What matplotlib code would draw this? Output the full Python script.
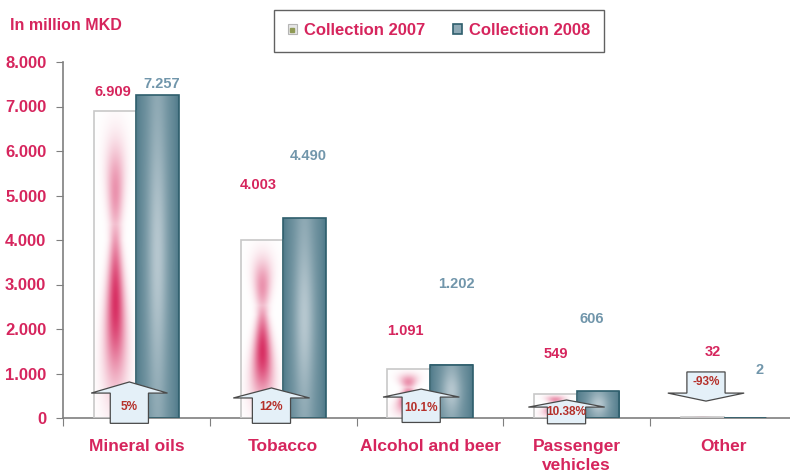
import numpy as np
import matplotlib.pyplot as plt
from matplotlib.patches import Patch, Polygon
from matplotlib.lines import Line2D
from matplotlib.legend_handler import HandlerTuple

plt.rcParams['font.family'] = ['Liberation Sans', 'DejaVu Sans']
plt.rcParams['font.weight'] = 'bold'

# Excise collection by product group, million MKD
categories = ['Mineral oils', 'Tobacco', 'Alcohol and beer', 'Passenger\nvehicles', 'Other']
collection_2007 = [6909, 4003, 1091, 549, 32]
collection_2008 = [7257, 4490, 1202, 606, 2]
change_labels = ['5%', '12%', '10.1%', '10.38%', '-93%']

# where the value labels sit (heights in MKD)
label_y_2007 = [7330, 5240, 1960, 1440, 1490]
label_y_2008 = [7500, 5890, 3010, 2230, 1080]
label_dx_2007 = [-0.16, -0.17, -0.165, -0.145, -0.075]
label_dx_2008 = [0.175, 0.17, 0.177, 0.10, 0.245]

# block arrows: x offset, tail, shoulder, tip, text height
arrow_geom = [
    (-0.048, -120, 560, 810, 245),
    (-0.08, -120, 450, 675, 245),
    (-0.06, -100, 470, 650, 220),
    (-0.07, -130, 245, 405, 130),
    (-0.12, 1035, 560, 380, 810),
]

PINK = '#d6255d'
BLUE_LBL = '#7196ab'
ARROW_TXT = '#b5302a'
GRAY = '#7f7f7f'


def fmt(v):
    return f'{v:,}'.replace(',', '.')


def grad_2007(nx=40, ny=160):
    u = np.linspace(-1, 1, nx)
    v = np.linspace(0, 1, ny)
    U, V = np.meshgrid(u, v)
    amp = np.maximum(0.95 * np.exp(-((V - 0.37) / 0.24) ** 2),
                     0.5 * np.exp(-((V - 0.74) / 0.15) ** 2))
    w = 0.28 + 0.7 * np.abs(V - 0.58)
    inten = amp * np.exp(-(U / w) ** 2)
    white = np.array([1.0, 1.0, 1.0])
    red = np.array([214, 38, 92]) / 255
    return white * (1 - inten[..., None]) + red * inten[..., None]


def grad_2008(nx=40, ny=160):
    u = np.linspace(-1, 1, nx)
    v = np.linspace(0, 1, ny)
    U, V = np.meshgrid(u, v)
    t = np.exp(-(U / 0.5) ** 2) * (0.45 + 0.55 * np.exp(-((V - 0.5) / 0.35) ** 2))
    t = t - 0.25 * np.abs(U) ** 6
    dark = np.array([98, 136, 150]) / 255
    light = np.array([182, 199, 207]) / 255
    t = t[..., None]
    return np.clip(dark * (1 - t) + light * t, 0, 1)


fig = plt.figure(figsize=(7.9, 4.71), dpi=100)
ax = fig.add_axes([63 / 790, 53 / 471, 734 / 790, 356 / 471])

x = np.arange(len(categories))
w = 0.29
b07 = ax.bar(x - w / 2, collection_2007, w, facecolor='none', edgecolor='#c8c8c8', lw=1.2, zorder=3)
b08 = ax.bar(x + w / 2, collection_2008, w, facecolor='none', edgecolor='#2e5e6c', lw=1.2, zorder=3)

# gradient fills inside each bar
img07 = grad_2007()
img08 = grad_2008()
for bars, img in ((b07, img07), (b08, img08)):
    for p in bars:
        x0, h = p.get_x(), p.get_height()
        if h <= 0:
            continue
        ax.imshow(img, extent=[x0, x0 + p.get_width(), 0, h], origin='lower',
                  aspect='auto', interpolation='bilinear', zorder=2)

# value labels
for i in range(len(categories)):
    ax.text(x[i] + label_dx_2007[i], label_y_2007[i], fmt(collection_2007[i]),
            ha='center', va='center', color=PINK, fontsize=10.5, fontweight='bold')
    ax.text(x[i] + label_dx_2008[i], label_y_2008[i], fmt(collection_2008[i]),
            ha='center', va='center', color=BLUE_LBL, fontsize=10.5, fontweight='bold')

# change arrows
hs, hh = 0.13, 0.26
for i, (dx, tail, sh, tip, ty) in enumerate(arrow_geom):
    cx = x[i] + dx
    pts = [(cx - hs, tail), (cx + hs, tail), (cx + hs, sh), (cx + hh, sh),
           (cx, tip), (cx - hh, sh), (cx - hs, sh)]
    ax.add_patch(Polygon(pts, closed=True, facecolor='#e4f0f8', edgecolor='#4a4a4a',
                         lw=0.9, zorder=5, clip_on=False))
    ax.text(cx, ty, change_labels[i], ha='center', va='center', color=ARROW_TXT,
            fontsize=8.5, fontweight='bold', zorder=6)

ax.set_xlim(-0.5, len(categories) - 0.5)
ax.set_ylim(0, 8000)

yt = np.arange(0, 8001, 1000)
ax.set_yticks(yt)
ax.set_yticklabels([fmt(v) for v in yt], color=PINK, fontsize=12, fontweight='bold')
ax.tick_params(axis='y', length=5, color=GRAY, pad=7)

ax.set_xticks(np.arange(len(categories) + 1) - 0.5)
ax.set_xticklabels([])
ax.tick_params(axis='x', which='major', length=6, color=GRAY)
ax.set_xticks(x, minor=True)
ax.set_xticklabels(categories, minor=True, color=PINK, fontsize=12.5, fontweight='bold',
                   linespacing=1.35)
ax.tick_params(axis='x', which='minor', length=0, pad=15)

for s in ('top', 'right'):
    ax.spines[s].set_visible(False)
for s in ('left', 'bottom'):
    ax.spines[s].set_color(GRAY)
    ax.spines[s].set_linewidth(1.2)

fig.text(10 / 790, 1 - 25 / 471, 'In million MKD', color=PINK, fontsize=11.5,
         fontweight='bold', va='center', ha='left')

h07 = (Patch(facecolor='#e6e6e6', edgecolor='#b5b5b5', lw=0.8),
       Line2D([], [], marker='s', markersize=3, color='#8f9a55', linestyle='none'))
h08 = Patch(facecolor='#8ea9b5', edgecolor='#2e5e6c', lw=1.2)
leg = ax.legend([h07, h08], ['Collection 2007', 'Collection 2008'],
                handler_map={tuple: HandlerTuple(ndivide=1, pad=0)},
                loc='upper center', bbox_to_anchor=(439 / 790, 1 - 10 / 471),
                bbox_transform=fig.transFigure, ncol=2, frameon=True, fancybox=False,
                edgecolor='#3a3a3a', handlelength=0.55, handleheight=0.55,
                handletextpad=0.4, columnspacing=1.7, borderpad=0.8, borderaxespad=0,
                prop={'size': 12, 'weight': 'bold'}, labelcolor=PINK)
leg.get_frame().set_linewidth(1.0)

fig.savefig('out.png', dpi=100)
